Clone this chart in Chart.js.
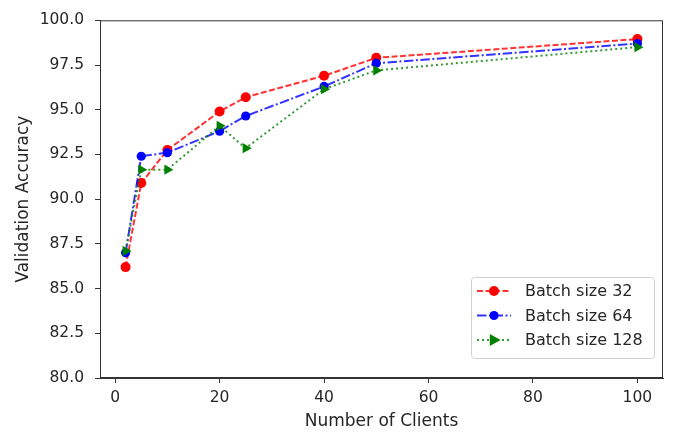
<!DOCTYPE html>
<html>
<head>
<meta charset="utf-8">
<script src="https://cdn.jsdelivr.net/npm/chart.js@4"></script>
<style>
  html, body { margin: 0; padding: 0; background: #fff; }
  #chart { display: block; }
</style>
</head>
<body>
<canvas id="chart" width="677" height="436"></canvas>
<script>
'use strict'

const clients = [2, 5, 10, 20, 25, 40, 50, 100];
const acc32 = [86.2, 90.9, 92.75, 94.9, 95.7, 96.9, 97.9, 98.95];
const acc64 = [87.0, 92.4, 92.6, 93.8, 94.65, 96.3, 97.6, 98.7];
const acc128 = [87.1, 91.65, 91.65, 94.1, 92.85, 96.15, 97.2, 98.5];
const xTicks = [0, 20, 40, 60, 80, 100];
const yTicks = [80, 82.5, 85, 87.5, 90, 92.5, 95, 97.5, 100];
const seriesNames = ['Batch size 32', 'Batch size 64', 'Batch size 128'];

const font = 'DejaVu Sans';
const textColor = '#262626';
const axisColor = '#333';
const tickSize = 15.5;
const titleSize = 17;

const toPoints = (vals) => vals.map((v, i) => ({ x: clients[i], y: v }));

// box round the plot and legend inside, like matplotlib
const frameAndLegend = {
	id: 'frameAndLegend',
	afterDraw(chart) {
		const { ctx, chartArea: { top, bottom, left, right } } = chart;
		ctx.save();
		ctx.strokeStyle = axisColor;
		ctx.lineWidth = 1;
		ctx.strokeRect(left + 0.5, top + 0.5, right - left - 1, bottom - top - 1);

		const bx = 471, by = 277, bw = 183, bh = 81;
		ctx.fillStyle = 'rgba(255,255,255,0.8)';
		ctx.strokeStyle = '#d0d0d0';
		ctx.beginPath();
		ctx.roundRect(bx + 0.5, by + 0.5, bw, bh, 3);
		ctx.fill();
		ctx.stroke();

		ctx.font = '16px "' + font + '"';
		ctx.textBaseline = 'middle';
		ctx.textAlign = 'left';
		chart.data.datasets.forEach((ds, i) => {
			const y = by + 14 + i * 24.5;
			ctx.strokeStyle = ds.borderColor;
			ctx.lineWidth = ds.borderWidth;
			ctx.setLineDash(ds.borderDash);
			ctx.beginPath();
			ctx.moveTo(bx + 6, y);
			ctx.lineTo(bx + 40, y);
			ctx.stroke();
			ctx.setLineDash([]);
			ctx.fillStyle = ds.pointBackgroundColor;
			ctx.beginPath();
			const cx = bx + 23, r = ds.pointRadius;
			if (ds.pointStyle === 'triangle') {
				ctx.moveTo(cx + r * 1.1, y);
				ctx.lineTo(cx - r * 0.7, y - r);
				ctx.lineTo(cx - r * 0.7, y + r);
				ctx.closePath();
			} else {
				ctx.arc(cx, y, r, 0, Math.PI * 2);
			}
			ctx.fill();
			ctx.fillStyle = textColor;
			ctx.fillText(ds.label, bx + 54, y + 1);
		});
		ctx.restore();
	},
};

new Chart(document.getElementById('chart'), {
	type: 'line',
	data: {
		datasets: [
			{
				label: seriesNames[0],
				data: toPoints(acc32),
				borderColor: 'rgba(255,0,0,0.8)',
				borderWidth: 2,
				borderDash: [6, 2.5],
				pointStyle: 'circle',
				pointRadius: 5,
				pointBackgroundColor: '#ff0000',
				pointBorderColor: '#ff0000',
				pointBorderWidth: 0,
				order: 2,
			},
			{
				label: seriesNames[1],
				data: toPoints(acc64),
				borderColor: 'rgba(0,0,255,0.8)',
				borderWidth: 2,
				borderDash: [9.5, 2.5, 2, 2.5],
				pointStyle: 'circle',
				pointRadius: 4.6,
				pointBackgroundColor: '#0000ff',
				pointBorderColor: '#0000ff',
				pointBorderWidth: 0,
				order: 1,
			},
			{
				label: seriesNames[2],
				data: toPoints(acc128),
				borderColor: 'rgba(0,128,0,0.8)',
				borderWidth: 2,
				borderDash: [2, 3],
				pointStyle: 'triangle',
				pointRotation: 90,
				pointRadius: 6,
				pointBackgroundColor: '#008000',
				pointBorderColor: '#008000',
				pointBorderWidth: 0,
				order: 0,
			},
		],
	},
	options: {
		responsive: false,
		animation: false,
		events: [],
		layout: { padding: { top: 12, right: 14, left: 0, bottom: 0 } },
		plugins: {
			legend: { display: false },
			tooltip: { enabled: false },
		},
		scales: {
			x: {
				type: 'linear',
				min: -2.9,
				max: 104.9,
				afterBuildTicks: (scale) => { scale.ticks = xTicks.map(v => ({ value: v })); },
				afterFit: (scale) => { scale.height = 58; },
				grid: { drawOnChartArea: false, drawTicks: true, tickLength: 5, color: axisColor },
				border: { display: true, color: axisColor },
				ticks: { padding: 6, color: textColor, font: { family: font, size: tickSize } },
				title: {
					display: true,
					text: 'Number of Clients',
					color: textColor,
					font: { family: font, size: titleSize },
					padding: { top: 0, bottom: 4 },
				},
			},
			y: {
				min: 80,
				max: 100,
				afterBuildTicks: (scale) => { scale.ticks = yTicks.map(v => ({ value: v })); },
				afterFit: (scale) => { scale.width = 100; },
				grid: { drawOnChartArea: false, drawTicks: true, tickLength: 5, color: axisColor },
				border: { display: true, color: axisColor },
				ticks: {
					padding: 11,
					color: textColor,
					font: { family: font, size: tickSize },
					callback: (v) => Number(v).toFixed(1),
				},
				title: {
					display: true,
					text: 'Validation Accuracy',
					color: textColor,
					font: { family: font, size: titleSize },
					padding: { top: 13, bottom: 0 },
				},
			},
		},
	},
	plugins: [frameAndLegend],
});
</script>
</body>
</html>
